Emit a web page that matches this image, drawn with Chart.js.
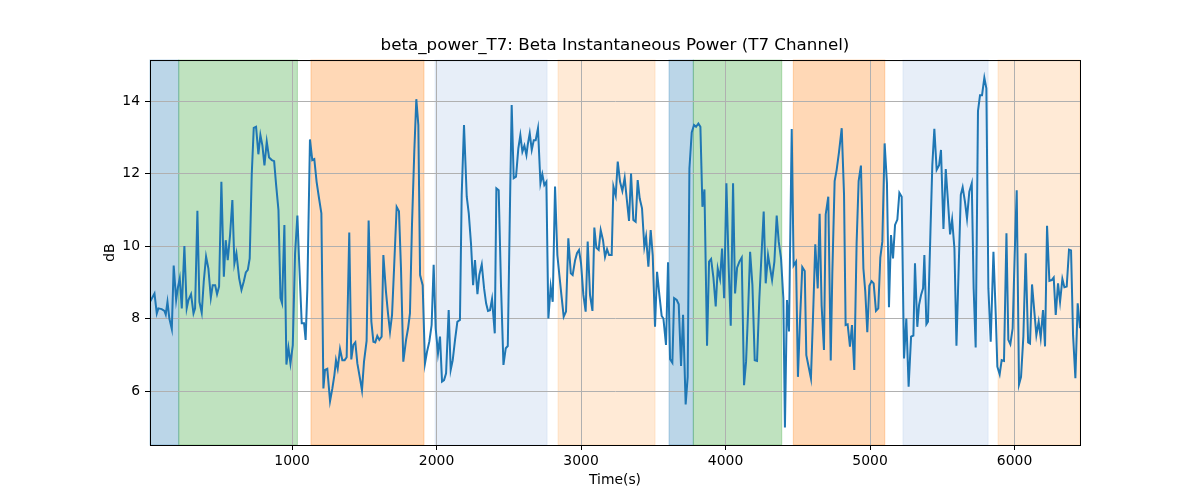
<!DOCTYPE html>
<html>
<head>
<meta charset="utf-8">
<script src="https://cdn.jsdelivr.net/npm/chart.js@4.4.1/dist/chart.umd.min.js"></script>
<style>
  html, body { margin: 0; padding: 0; background: #fff; }
  #wrap { width: 1200px; height: 500px; }
</style>
</head>
<body>
<div id="wrap"><canvas id="powerChart" width="1200" height="500"></canvas></div>
<script>
// time (s) of each sample
const times = [
  17, 48, 64, 75, 98, 117, 126, 138, 151, 168, 181, 198, 209, 223, 237, 255, 271, 283, 301, 318,
  329, 345, 359, 375, 389, 405, 421, 438, 451, 468, 481, 495, 511, 528, 541, 555, 571, 587, 601, 615,
  634, 650, 666, 680, 694, 707, 721, 735, 751, 767, 781, 795, 809, 825, 841, 860, 876, 890, 906, 920,
  931, 947, 961, 975, 989, 1005, 1021, 1037, 1049, 1067, 1083, 1094, 1106, 1124, 1140, 1154, 1170, 1187, 1203, 1217,
  1228, 1244, 1263, 1279, 1293, 1304, 1316, 1332, 1348, 1364, 1378, 1396, 1410, 1424, 1438, 1452, 1470, 1484, 1498, 1516,
  1530, 1549, 1563, 1576, 1590, 1604, 1620, 1632, 1650, 1664, 1678, 1692, 1706, 1724, 1740, 1754, 1770, 1789, 1803, 1816,
  1830, 1846, 1860, 1874, 1886, 1904, 1920, 1934, 1950, 1966, 1980, 1994, 2010, 2024, 2038, 2052, 2066, 2084, 2098, 2112,
  2128, 2144, 2162, 2174, 2190, 2209, 2223, 2239, 2253, 2266, 2283, 2296, 2313, 2329, 2343, 2356, 2370, 2384, 2403, 2414,
  2430, 2446, 2463, 2479, 2493, 2509, 2520, 2534, 2550, 2566, 2580, 2594, 2608, 2622, 2631, 2645, 2659, 2673, 2686, 2702,
  2719, 2732, 2746, 2760, 2774, 2790, 2804, 2820, 2836, 2850, 2864, 2880, 2896, 2912, 2929, 2942, 2959, 2972, 2986, 3000,
  3016, 3032, 3046, 3062, 3079, 3092, 3106, 3122, 3136, 3152, 3166, 3180, 3194, 3212, 3224, 3240, 3254, 3270, 3286, 3302,
  3316, 3332, 3346, 3362, 3378, 3392, 3406, 3422, 3438, 3450, 3466, 3482, 3496, 3512, 3526, 3542, 3558, 3570, 3588, 3602,
  3616, 3632, 3644, 3662, 3676, 3692, 3706, 3724, 3738, 3750, 3766, 3782, 3796, 3812, 3826, 3840, 3854, 3872, 3886, 3900,
  3916, 3932, 3946, 3962, 3976, 3990, 4006, 4022, 4036, 4052, 4066, 4080, 4096, 4112, 4128, 4142, 4156, 4170, 4186, 4202,
  4218, 4234, 4250, 4264, 4278, 4294, 4308, 4322, 4338, 4354, 4368, 4384, 4400, 4411, 4425, 4439, 4458, 4471, 4488, 4501,
  4515, 4531, 4548, 4559, 4575, 4591, 4608, 4621, 4638, 4651, 4665, 4681, 4693, 4711, 4728, 4739, 4755, 4769, 4785, 4804,
  4820, 4831, 4845, 4861, 4875, 4891, 4907, 4921, 4937, 4954, 4967, 4981, 4995, 5011, 5025, 5041, 5057, 5071, 5085, 5101,
  5117, 5131, 5145, 5159, 5173, 5189, 5203, 5219, 5235, 5251, 5267, 5284, 5300, 5311, 5327, 5339, 5353, 5367, 5376, 5390,
  5401, 5418, 5431, 5445, 5461, 5478, 5491, 5508, 5524, 5538, 5554, 5568, 5584, 5598, 5614, 5628, 5641, 5657, 5671, 5687,
  5704, 5717, 5731, 5747, 5761, 5775, 5791, 5805, 5819, 5835, 5854, 5870, 5881, 5897, 5911, 5927, 5944, 5957, 5971, 5987,
  6001, 6015, 6031, 6045, 6061, 6077, 6094, 6107, 6121, 6137, 6151, 6167, 6181, 6197, 6211, 6225, 6241, 6257, 6271, 6285,
  6301, 6315, 6331, 6345, 6361, 6377, 6391, 6405, 6421, 6437, 6453
];

// beta power (dB)
const power = [
  8.47, 8.70, 8.15, 8.29, 8.27, 8.22, 8.12, 8.47, 8.01, 7.72, 9.47, 8.52, 8.84, 9.12, 8.29, 10.01, 8.29, 8.52, 8.68, 8.15,
  8.29, 10.98, 8.47, 8.17, 9.03, 9.72, 9.39, 8.58, 8.93, 8.93, 8.68, 8.89, 11.78, 9.16, 10.17, 9.62, 10.31, 11.28, 9.53, 9.81,
  9.12, 8.80, 9.03, 9.28, 9.35, 9.67, 11.97, 13.27, 13.30, 12.54, 13.07, 12.78, 12.23, 12.89, 12.45, 12.38, 12.35, 11.69, 11.00, 8.57,
  8.43, 10.59, 6.74, 7.20, 6.77, 7.27, 9.81, 10.85, 9.58, 7.88, 7.88, 7.42, 8.84, 12.95, 12.38, 12.41, 11.78, 11.32, 10.91, 6.08,
  6.59, 6.62, 5.73, 6.08, 6.45, 6.86, 6.63, 7.17, 6.86, 6.86, 6.94, 10.38, 6.88, 7.28, 7.35, 6.77, 6.36, 6.03, 6.82, 7.39,
  10.71, 7.92, 7.37, 7.35, 7.53, 7.42, 7.51, 9.76, 8.75, 8.15, 7.65, 8.11, 9.39, 11.09, 10.97, 9.39, 6.82, 7.42, 7.74, 8.15,
  10.59, 12.61, 14.06, 13.35, 9.21, 8.93, 6.77, 7.09, 7.37, 7.83, 9.49, 7.74, 7.05, 7.51, 6.27, 6.31, 6.50, 8.24, 6.59, 6.86,
  7.42, 7.92, 7.97, 11.42, 13.35, 11.37, 10.91, 10.04, 8.93, 9.62, 8.68, 9.21, 9.50, 8.84, 8.43, 8.22, 8.24, 8.55, 7.60, 11.60,
  11.55, 8.93, 6.73, 7.19, 7.25, 11.32, 13.90, 11.88, 11.92, 12.70, 13.07, 12.61, 12.78, 12.52, 12.80, 13.12, 12.66, 12.93, 12.93, 13.26,
  11.74, 11.99, 11.69, 11.78, 8.01, 8.89, 8.47, 11.65, 9.76, 9.21, 8.66, 8.06, 8.20, 10.22, 9.26, 9.21, 9.62, 9.81, 9.90, 9.53,
  8.66, 8.20, 10.13, 8.66, 8.22, 10.52, 9.96, 9.90, 10.45, 10.17, 9.71, 9.92, 9.76, 9.76, 11.65, 11.40, 12.34, 11.78, 11.53, 11.89,
  11.32, 10.70, 12.01, 10.73, 10.68, 11.83, 11.32, 11.05, 9.99, 10.27, 9.44, 10.45, 9.76, 7.78, 9.30, 8.66, 8.08, 8.01, 7.28, 9.56,
  6.89, 6.79, 8.57, 8.52, 8.40, 6.70, 8.11, 5.64, 6.40, 12.15, 13.14, 13.35, 13.30, 13.39, 13.30, 11.09, 11.57, 7.26, 9.58, 9.65,
  9.14, 8.34, 9.39, 9.10, 9.94, 8.57, 11.74, 9.39, 7.81, 11.74, 8.70, 9.41, 9.58, 9.69, 6.17, 6.82, 8.20, 9.85, 8.93, 6.86,
  6.84, 8.57, 9.85, 10.96, 8.98, 9.76, 9.41, 9.07, 9.58, 10.85, 10.13, 9.67, 8.57, 5.00, 8.52, 7.65, 13.24, 9.47, 9.58, 6.40,
  7.92, 9.43, 9.32, 7.00, 6.68, 6.36, 8.38, 10.06, 8.84, 10.90, 8.36, 7.14, 10.88, 11.37, 6.85, 9.26, 11.80, 12.11, 12.59, 13.26,
  11.42, 7.83, 7.85, 7.23, 7.83, 6.59, 10.08, 11.80, 12.23, 9.39, 8.75, 7.63, 8.91, 9.04, 8.98, 8.22, 8.29, 9.69, 10.13, 12.84,
  11.74, 8.32, 10.31, 9.67, 10.59, 10.74, 11.48, 11.37, 6.91, 8.01, 6.13, 7.51, 7.54, 9.53, 7.78, 8.38, 8.66, 8.84, 9.76, 7.85,
  7.92, 10.40, 12.24, 13.24, 12.11, 12.24, 12.66, 10.48, 12.13, 11.32, 10.33, 10.74, 9.94, 7.26, 9.49, 11.42, 11.63, 11.23, 10.77, 11.51,
  11.74, 8.84, 7.21, 13.73, 14.17, 14.17, 14.65, 14.36, 8.84, 7.37, 9.85, 8.11, 6.68, 6.47, 6.86, 6.84, 10.36, 7.42, 7.30, 7.74,
  9.76, 11.55, 6.19, 6.40, 7.51, 9.81, 7.35, 7.32, 8.95, 8.20, 7.55, 7.92, 7.48, 8.24, 7.24, 10.57, 9.05, 9.07, 9.14, 8.11,
  8.98, 8.47, 9.10, 8.87, 8.89, 9.91, 9.89, 7.55, 6.36, 8.43, 7.74
];

// shaded stages
const bandStart = [17, 216, 1131, 1990, 2841, 3609, 3777, 4469, 5228, 5886];
const bandEnd = [216, 1037, 1913, 2765, 3512, 3777, 4389, 5102, 5817, 6453];
const bandStage = ["a", "b", "c", "d", "e", "a", "b", "c", "d", "e"];

const xTicks = [1000, 2000, 3000, 4000, 5000, 6000];
const yTicks = [6, 8, 10, 12, 14];

const stageColors = {
  a: "rgba(31,119,180,0.3)",
  b: "rgba(44,160,44,0.3)",
  c: "rgba(255,127,14,0.3)",
  d: "rgba(174,199,232,0.3)",
  e: "rgba(255,187,120,0.3)"
};

const bandsPlugin = {
  id: "bands",
  beforeDraw(chart) {
    const { ctx, chartArea, scales } = chart;
    ctx.save();
    bandStart.forEach((s, i) => {
      const x0 = scales.x.getPixelForValue(s);
      const x1 = scales.x.getPixelForValue(bandEnd[i]);
      ctx.fillStyle = stageColors[bandStage[i]];
      ctx.strokeStyle = stageColors[bandStage[i]];
      ctx.lineWidth = 1;
      ctx.fillRect(x0, chartArea.top, x1 - x0, chartArea.bottom - chartArea.top);
      ctx.strokeRect(x0, chartArea.top, x1 - x0, chartArea.bottom - chartArea.top);
    });
    ctx.restore();
  },
  afterDraw(chart) {
    const { ctx, chartArea } = chart;
    ctx.save();
    ctx.strokeStyle = "#000";
    ctx.lineWidth = 1;
    ctx.strokeRect(chartArea.left + 0.5, chartArea.top + 0.5,
      chartArea.right - chartArea.left, chartArea.bottom - chartArea.top);
    ctx.restore();
  }
};

const font = "'DejaVu Sans', sans-serif";

new Chart(document.getElementById("powerChart"), {
  type: "line",
  data: {
    datasets: [{
      label: "beta_power_T7",
      data: times.map((t, i) => ({ x: t, y: power[i] })),
      borderColor: "#1f77b4",
      borderWidth: 2,
      pointRadius: 0,
      tension: 0,
      fill: false
    }]
  },
  options: {
    responsive: false,
    animation: false,
    layout: { padding: { left: 0, right: 120, top: 0, bottom: 0 } },
    plugins: {
      legend: { display: false },
      tooltip: { enabled: false },
      title: {
        display: true,
        text: "beta_power_T7: Beta Instantaneous Power (T7 Channel)",
        color: "#000",
        fullSize: false,
        font: { family: font, size: 16.7, weight: "normal" },
        padding: { top: 36, bottom: 4 }
      }
    },
    scales: {
      x: {
        type: "linear",
        min: 17,
        max: 6453,
        afterBuildTicks: s => { s.ticks = xTicks.map(v => ({ value: v })); },
        afterFit: s => { s.height = 55; },
        grid: { color: "#b0b0b0", lineWidth: 1, tickColor: "#000", tickLength: 5 },
        border: { color: "#000", width: 1 },
        ticks: { color: "#000", font: { family: font, size: 13.9 }, padding: 3, maxRotation: 0, callback: v => String(v) },
        title: { display: true, text: "Time(s)", color: "#000", font: { family: font, size: 13.9 }, padding: { top: 0, bottom: 11 } }
      },
      y: {
        type: "linear",
        min: 4.52,
        max: 15.14,
        afterBuildTicks: s => { s.ticks = yTicks.map(v => ({ value: v })); },
        afterFit: s => { s.width = 150; },
        grid: { color: "#b0b0b0", lineWidth: 1, tickColor: "#000", tickLength: 5 },
        border: { color: "#000", width: 1 },
        ticks: { color: "#000", font: { family: font, size: 13.9 }, padding: 5, callback: v => String(v) },
        title: { display: true, text: "dB", color: "#000", font: { family: font, size: 13.9 }, padding: { top: 102, bottom: 0 } }
      }
    }
  },
  plugins: [bandsPlugin]
});
</script>
</body>
</html>
